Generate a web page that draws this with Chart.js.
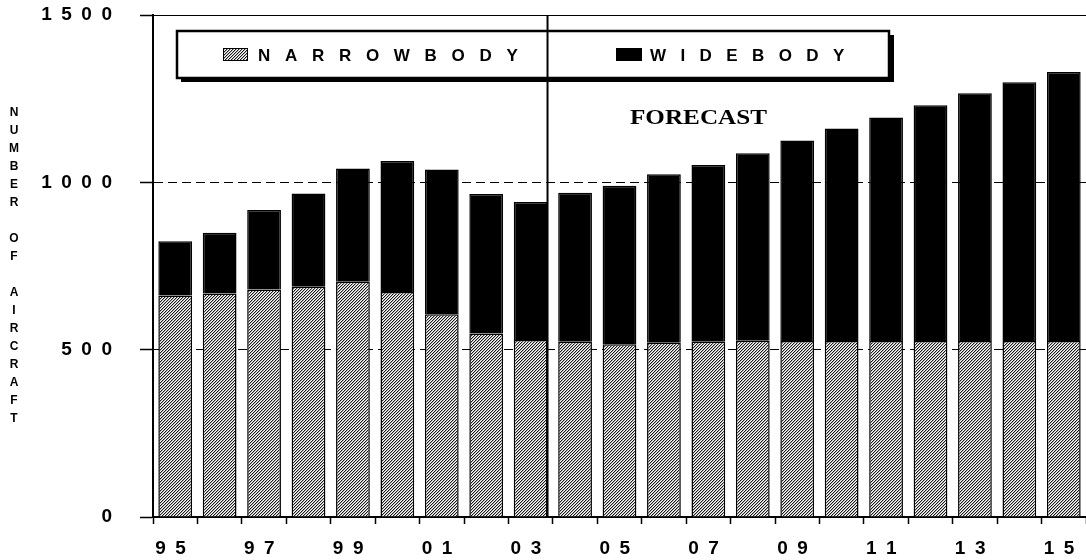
<!DOCTYPE html>
<html>
<head>
<meta charset="utf-8">
<script src="https://cdn.jsdelivr.net/npm/chart.js@4/dist/chart.umd.min.js"></script>
<style>
  html, body { margin: 0; padding: 0; background: #fff; }
  #wrap { width: 1086px; height: 560px; position: relative; }
</style>
</head>
<body>
<div id="wrap"><canvas id="fleetChart"></canvas></div>
<script>
// years on the x axis (two digits, 1995 - 2015)
const years = ['95', '96', '97', '98', '99', '00', '01', '02', '03', '04', '05',
               '06', '07', '08', '09', '10', '11', '12', '13', '14', '15'];
// number of aircraft
const narrowbody = [662, 668, 680, 688, 703, 672, 606, 548, 529, 524, 516,
                    521, 524, 527, 526, 526, 526, 526, 526, 526, 526];
const widebody = [162, 181, 237, 279, 338, 392, 432, 417, 412, 445, 474,
                  503, 528, 560, 599, 635, 668, 704, 740, 773, 804];
const seriesNames = ['NARROWBODY', 'WIDEBODY'];
const yTicks = [0, 500, 1000, 1500];
const yTitle = 'NUMBER OF AIRCRAFT';
const forecastText = 'FORECAST';
const forecastAfter = '03'; // last actual year

const SANS = '"Liberation Sans", Arial, sans-serif';
const SERIF = '"Liberation Serif", "Times New Roman", serif';

// fine diagonal hatch used for the narrowbody bars
function makeHatch() {
    const tile = document.createElement('canvas');
    tile.width = 3;
    tile.height = 3;
    const t = tile.getContext('2d');
    t.fillStyle = '#ffffff';
    t.fillRect(0, 0, 3, 3);
    for (let y = 0; y < 3; y++) {
        t.fillStyle = '#1a1a1a';
        t.fillRect((2 - y + 3) % 3, y, 1, 1);
        t.fillStyle = '#b0b0b0';
        t.fillRect((3 - y + 3) % 3, y, 1, 1);
    }
    return document.getElementById('fleetChart').getContext('2d').createPattern(tile, 'repeat');
}
const hatch = makeHatch();

// spread characters with a wide gap, like the original axis text
const spread = s => s.split('').join('\u2002');

// vertical divider between actual and forecast years (drawn behind the bars)
const forecastLine = {
    id: 'forecastLine',
    beforeDatasetsDraw(chart) {
        const { ctx, chartArea } = chart;
        const x = chart.scales.x;
        const i = years.indexOf(forecastAfter);
        const step = x.getPixelForValue(1) - x.getPixelForValue(0);
        const px = x.getPixelForValue(i) + step * 0.38;
        ctx.save();
        ctx.strokeStyle = '#000';
        ctx.lineWidth = 2;
        ctx.beginPath();
        ctx.moveTo(px, chartArea.top);
        ctx.lineTo(px, chartArea.bottom);
        ctx.stroke();
        ctx.restore();
    }
};

// text with a fixed extra gap after every glyph
function spacedText(ctx, text, x, y, gap) {
    let cx = x;
    text.split('').forEach(ch => {
        ctx.fillText(ch, cx, y);
        cx += ctx.measureText(ch).width + gap;
    });
}

// boxed legend inside the plot, forecast label and stacked y title
const decorations = {
    id: 'decorations',
    afterDraw(chart) {
        const { ctx } = chart;
        ctx.save();

        // legend frame with drop shadow
        const bx = 177, by = 31, bw = 712, bh = 47;
        ctx.fillStyle = '#000';
        ctx.fillRect(bx + bw, by + 4, 5, bh);
        ctx.fillRect(bx + 4, by + bh, bw + 1, 4);
        ctx.strokeStyle = '#000';
        ctx.lineWidth = 2.5;
        ctx.strokeRect(bx, by, bw, bh);

        // legend swatches
        ctx.fillStyle = hatch;
        ctx.fillRect(223, 48, 25, 13);
        ctx.lineWidth = 1;
        ctx.strokeRect(223.5, 48.5, 24, 12);
        ctx.fillStyle = '#000';
        ctx.fillRect(616, 48, 26, 13);

        // legend labels
        ctx.font = 'bold 17px ' + SANS;
        ctx.textBaseline = 'alphabetic';
        ctx.textAlign = 'left';
        spacedText(ctx, seriesNames[0], 258, 61, 14.7);
        spacedText(ctx, seriesNames[1], 650, 61, 14.4);

        // FORECAST
        ctx.font = 'bold 22px ' + SERIF;
        const w = ctx.measureText(forecastText).width;
        ctx.translate(630, 124);
        ctx.scale(137 / w, 1);
        ctx.fillText(forecastText, 0, 0);
        ctx.setTransform(1, 0, 0, 1, 0, 0);

        // y axis title, one letter per line
        ctx.font = 'bold 12px ' + SANS;
        ctx.textAlign = 'center';
        ctx.textBaseline = 'middle';
        yTitle.split('').forEach((ch, k) => {
            if (ch !== ' ') ctx.fillText(ch, 14, 113 + k * 18);
        });
        ctx.restore();
    }
};

new Chart(document.getElementById('fleetChart'), {
    type: 'bar',
    data: {
        labels: years,
        datasets: [{
            label: seriesNames[0],
            data: narrowbody,
            backgroundColor: hatch,
            borderColor: '#000',
            borderWidth: 1.5,
            barPercentage: 0.76,
            categoryPercentage: 1
        }, {
            label: seriesNames[1],
            data: widebody,
            backgroundColor: '#000',
            borderColor: '#000',
            borderWidth: 1.5,
            barPercentage: 0.76,
            categoryPercentage: 1
        }]
    },
    options: {
        responsive: true,
        maintainAspectRatio: false,
        animation: false,
        devicePixelRatio: 1,
        layout: { padding: { top: 15, right: 0, left: 0, bottom: 0 } },
        plugins: {
            legend: { display: false },
            tooltip: { enabled: false }
        },
        scales: {
            x: {
                stacked: true,
                grid: {
                    display: true,
                    drawOnChartArea: false,
                    drawTicks: true,
                    tickLength: 7,
                    tickColor: '#000',
                    tickWidth: 1.5
                },
                border: { display: true, color: '#000', width: 2 },
                ticks: {
                    autoSkip: false,
                    maxRotation: 0,
                    minRotation: 0,
                    padding: 13,
                    color: '#000',
                    font: { family: SANS, size: 19, weight: 'bold' },
                    callback: (v, i) => (i % 2 === 0 ? spread(years[i]) + '\u2002' : '')
                },
                afterFit: scale => {
                    scale.height = 43;
                    scale.paddingLeft = 0;
                    scale.paddingRight = 0;
                }
            },
            y: {
                stacked: true,
                min: 0,
                max: 1500,
                afterBuildTicks: scale => { scale.ticks = yTicks.map(v => ({ value: v })); },
                grid: {
                    color: '#000',
                    lineWidth: 1,
                    tickLength: 13,
                    tickColor: '#000',
                    tickWidth: 1.5
                },
                border: {
                    display: true,
                    color: '#000',
                    width: 2,
                    dash: ctx => (ctx.tick && ctx.tick.value === 1500 ? [] : [9, 5])
                },
                ticks: {
                    padding: 28,
                    color: '#000',
                    font: { family: SANS, size: 19, weight: 'bold' },
                    callback: v => spread(String(v))
                },
                afterFit: scale => {
                    scale.width = 153;
                    scale.paddingTop = 0;
                    scale.paddingBottom = 0;
                }
            }
        }
    },
    plugins: [forecastLine, decorations]
});
</script>
</body>
</html>
